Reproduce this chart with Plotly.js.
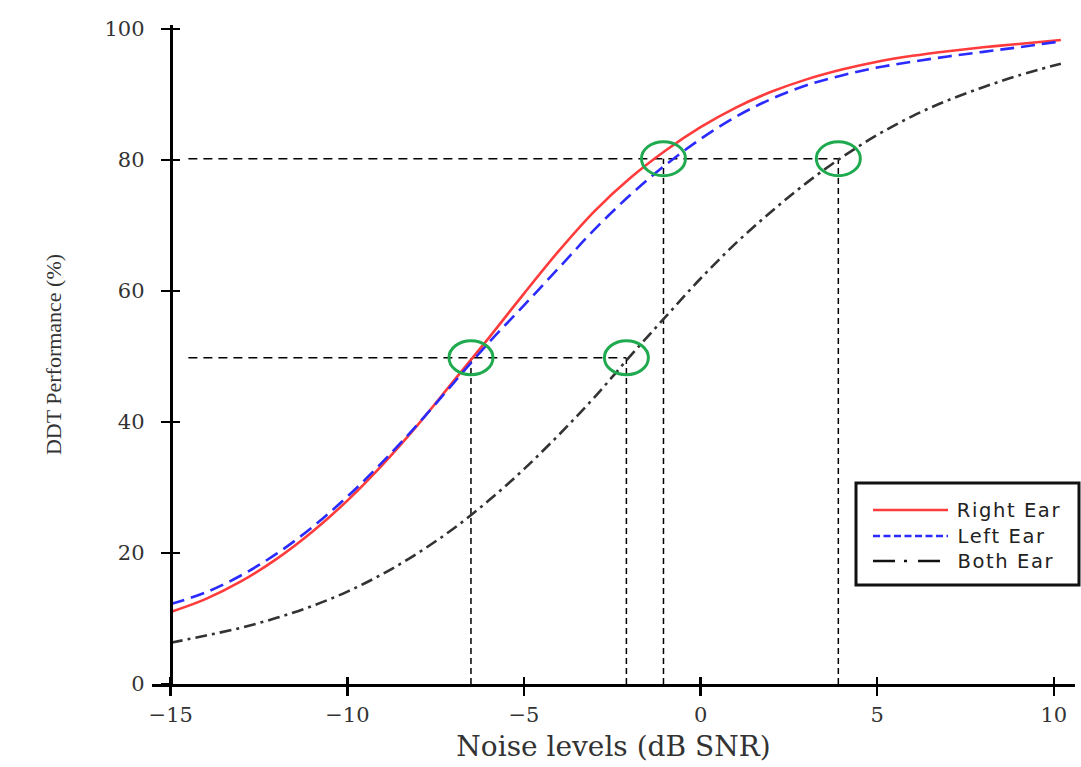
<!DOCTYPE html>
<html>
<head>
<meta charset="utf-8">
<script src="https://cdn.plot.ly/plotly-3.0.1.min.js"></script>
<style>
html,body{margin:0;padding:0;background:#fff;}
#chart{width:1081px;height:767px;}
#chart .annotation-text{letter-spacing:1.6px;}
</style>
</head>
<body>
<div id="chart"></div>
<script>
// ---- data ----
const snr = [-15, -14, -13, -12, -11, -10, -9, -8, -7, -6, -5, -4, -3, -2, -1, 0, 1, 2, 3, 4, 5, 6, 7, 8, 9, 10.2];
const rightEar = [11.0, 13.0, 15.7, 19.1, 23.2, 28.0, 33.5, 39.6, 46.2, 52.8, 59.6, 66.2, 72.2, 77.2, 81.4, 85.0, 88.0, 90.4, 92.3, 93.8, 95.0, 95.9, 96.6, 97.2, 97.7, 98.3];
const leftEar  = [12.2, 14.0, 16.6, 19.9, 23.9, 28.6, 33.9, 39.7, 45.9, 52.1, 57.8, 63.6, 69.4, 74.6, 79.2, 83.2, 86.6, 89.3, 91.4, 92.9, 94.1, 95.0, 95.8, 96.5, 97.2, 98.1];
const bothEar  = [6.3, 7.4, 8.6, 10.1, 11.9, 14.1, 16.8, 20.0, 23.7, 28.0, 32.8, 38.1, 43.8, 50.0, 56.0, 61.9, 67.3, 72.1, 76.5, 80.4, 83.8, 86.7, 89.1, 91.1, 92.9, 94.7];
const seriesNames = ["Right Ear", "Left Ear", "Both Ear"];

// reference (threshold) levels and where each level is reached
const refLevels = [49.8, 80.2];
const refCrossings = [[-6.5, -2.1], [-1.05, 3.9]];
const refLineStart = -14.5;

const xTicks = [-15, -10, -5, 0, 5, 10];
const yTicks = [0, 20, 40, 60, 80, 100];
const xTitle = "Noise levels (dB SNR)";
const yTitle = "DDT Performance (%)";

// ---- styles ----
const seriesColors = ["#ff3b3b", "#2b2bff", "#333333"];
const seriesDash = ["solid", "14px,7px", "12px,5px,3px,5px"];
const legendDash = ["solid", "7px,3.5px", "22px,9px,3px,11px"];
const allY = [rightEar, leftEar, bothEar];

const traces = [];
// reference dashed lines
refLevels.forEach((lvl, i) => {
  const xs = refCrossings[i];
  traces.push({x: [refLineStart, Math.max(...xs)], y: [lvl, lvl], mode: 'lines',
    line: {color: '#000', width: 1.5, dash: '9px,6px'}, showlegend: false, hoverinfo: 'skip'});
  xs.forEach(cx => {
    traces.push({x: [cx, cx], y: [0, lvl], mode: 'lines',
      line: {color: '#000', width: 1.5, dash: '6px,4px'}, showlegend: false, hoverinfo: 'skip'});
  });
});
// curves
seriesNames.forEach((nm, i) => {
  traces.push({x: snr, y: allY[i], name: nm, mode: 'lines',
    line: {color: seriesColors[i], width: 2.6, dash: seriesDash[i], shape: 'spline', smoothing: 1}, showlegend: false});
});
// helper trace for overlay axes (ticks that cross the axis lines)
traces.push({x: [], y: [], xaxis: 'x2', yaxis: 'y2', showlegend: false, hoverinfo: 'skip'});

const xRange = [-15.53, 10.6];
const yRange = [0, 100.6];
const yPos = (xTicks[0] - xRange[0]) / (xRange[1] - xRange[0]);

const shapes = [];
// green circles around crossings
refLevels.forEach((lvl, i) => {
  refCrossings[i].forEach(cx => {
    shapes.push({type: 'circle', xref: 'x', yref: 'y', xsizemode: 'pixel', ysizemode: 'pixel',
      xanchor: cx, yanchor: lvl, x0: -22, x1: 22, y0: -17, y1: 17,
      line: {color: '#1faa50', width: 3}, layer: 'above'});
  });
});

// custom legend (paper coordinates)
const plotL = 152, plotW = 923, plotB = 684, plotH = 659;
const px2x = p => (p - plotL) / plotW;
const py2y = p => (plotB - p) / plotH;
shapes.push({type: 'rect', xref: 'paper', yref: 'paper', x0: px2x(856), x1: px2x(1079), y0: py2y(585), y1: py2y(483),
  line: {color: '#111', width: 3}, fillcolor: '#fff', layer: 'above'});
const annotations = [];
const legendRows = [510, 536, 561];
seriesNames.forEach((nm, i) => {
  shapes.push({type: 'line', xref: 'paper', yref: 'paper', x0: px2x(873), x1: px2x(948), y0: py2y(legendRows[i]), y1: py2y(legendRows[i]),
    line: {color: i === 2 ? '#111' : seriesColors[i], width: 2.6, dash: legendDash[i]}, layer: 'above'});
  annotations.push({xref: 'paper', yref: 'paper', x: px2x(962), y: py2y(legendRows[i]), xanchor: 'left', yanchor: 'middle',
    text: nm, showarrow: false, font: {family: 'DejaVu Sans', size: 19.5, color: '#222'}});
});

const tickFont = {family: 'DejaVu Serif', size: 21, color: '#333'};
const layout = {
  width: 1081, height: 767,
  margin: {l: 152, r: 6, t: 25, b: 83, pad: 0},
  paper_bgcolor: '#fff', plot_bgcolor: '#fff',
  showlegend: false,
  xaxis: {range: xRange, tickvals: xTicks, ticktext: xTicks.map(v => v < 0 ? '\u2212' + Math.abs(v) : String(v)),
    showgrid: false, zeroline: false, showline: true, linewidth: 3, linecolor: '#000',
    ticks: 'outside', ticklen: 9, tickwidth: 2.5, tickcolor: '#000', tickfont: tickFont, ticklabelstandoff: 1,
    title: {text: xTitle, font: {family: 'DejaVu Serif', size: 28, color: '#333'}, standoff: 11}},
  yaxis: {range: yRange, tickvals: yTicks, anchor: 'free', position: yPos,
    showgrid: false, zeroline: false, showline: true, linewidth: 3, linecolor: '#000',
    ticks: 'outside', ticklen: 9, tickwidth: 2.5, tickcolor: '#000', tickfont: tickFont, ticklabelstandoff: 12,
    title: {text: yTitle, font: {family: 'Liberation Serif', size: 22, color: '#333'}, standoff: 35}},
  xaxis2: {range: xRange, overlaying: 'x', anchor: 'y2', tickvals: xTicks, showticklabels: false, showgrid: false, zeroline: false,
    showline: false, ticks: 'inside', ticklen: 7, tickwidth: 2.5, tickcolor: '#000'},
  yaxis2: {range: yRange, overlaying: 'y', anchor: 'free', position: yPos, tickvals: yTicks, showticklabels: false, showgrid: false, zeroline: false,
    showline: false, ticks: 'inside', ticklen: 8, tickwidth: 2.5, tickcolor: '#000'},
  shapes: shapes,
  annotations: annotations
};

Plotly.newPlot('chart', traces, layout, {displayModeBar: false, staticPlot: true});
</script>
</body>
</html>
